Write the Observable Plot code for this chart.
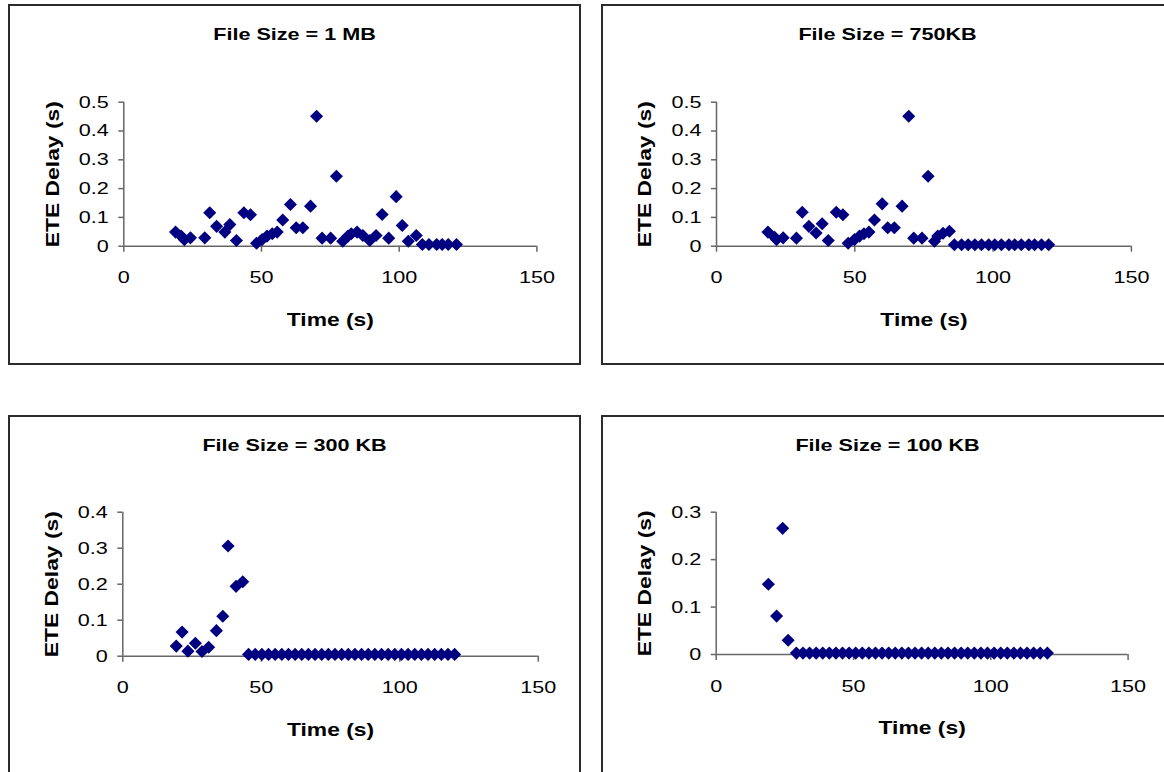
<!DOCTYPE html>
<html>
<head>
<meta charset="utf-8">
<script src="https://cdn.jsdelivr.net/npm/d3@7"></script>
<script src="https://cdn.jsdelivr.net/npm/@observablehq/plot@0.6"></script>
<style>
  html, body { margin: 0; padding: 0; background: #fff; }
  body { width: 1164px; height: 772px; overflow: hidden; position: relative;
         font-family: "Liberation Sans", Arial, sans-serif; }
  .frame { position: absolute; box-sizing: border-box; border: 2px solid #2b2b2b; }
  .title { position: absolute; width: 571px; text-align: center; font-weight: bold;
           font-size: 17px; line-height: 17px; color: #000;
           transform: scaleX(1.27); transform-origin: 50% 50%; }
  .chart { position: absolute; }
</style>
</head>
<body>
<script>
// ---- Data ----
const titles = ["File Size = 1 MB", "File Size = 750KB", "File Size = 300 KB", "File Size = 100 KB"];
const xTicks = [0, 50, 100, 150];
const yTicks1MB = [0, 0.1, 0.2, 0.3, 0.4, 0.5];
const yTicks750KB = [0, 0.1, 0.2, 0.3, 0.4, 0.5];
const yTicks300KB = [0, 0.1, 0.2, 0.3, 0.4];
const yTicks100KB = [0, 0.1, 0.2, 0.3];

const time1MB = [18.8, 20.8, 22, 24.2, 29.4, 31.2, 33.7, 36.7, 38.5, 40.9, 43.6, 46, 48.2, 50.2, 52, 53.9, 55.7, 57.7, 60.5, 62.6, 65, 67.8, 70, 72, 75.1, 77.2, 79.5, 81.4, 82.6, 84.7, 86.8, 89.3, 91.6, 93.8, 96.2, 98.9, 101.1, 103.3, 106.2, 108.4, 110.8, 113.6, 115.6, 117.8, 120.8];
const delay1MB = [0.049, 0.035, 0.023, 0.029, 0.029, 0.116, 0.069, 0.049, 0.075, 0.02, 0.116, 0.109, 0.01, 0.023, 0.035, 0.043, 0.049, 0.091, 0.145, 0.064, 0.064, 0.139, 0.451, 0.028, 0.028, 0.243, 0.017, 0.035, 0.043, 0.049, 0.037, 0.02, 0.037, 0.11, 0.028, 0.172, 0.072, 0.017, 0.037, 0.006, 0.006, 0.006, 0.006, 0.006, 0.006];

const time750KB = [18.6, 21, 21.7, 24.1, 28.9, 31, 33.4, 36, 38.2, 40.4, 43.3, 45.7, 47.6, 49.9, 51.7, 53.3, 55.1, 57.1, 59.9, 61.9, 64.3, 67.1, 69.5, 71.3, 74.3, 76.5, 78.8, 80, 81.9, 84.2, 86, 88.6, 91, 93.4, 95.8, 98.4, 100.6, 103, 105.7, 107.8, 110.2, 112.9, 115, 117.5, 120.1];
const delay750KB = [0.049, 0.031, 0.023, 0.029, 0.028, 0.118, 0.069, 0.046, 0.078, 0.02, 0.118, 0.109, 0.01, 0.023, 0.035, 0.043, 0.049, 0.091, 0.147, 0.064, 0.064, 0.139, 0.451, 0.028, 0.028, 0.243, 0.017, 0.035, 0.045, 0.052, 0.005, 0.005, 0.005, 0.005, 0.005, 0.005, 0.005, 0.005, 0.005, 0.005, 0.005, 0.005, 0.005, 0.005, 0.005];

const time300KB = [19.3, 21.4, 23.5, 26.2, 28.6, 31, 33.8, 36.1, 38, 40.9, 43.3, 45.4, 47.8, 50.2, 52.6, 55, 57.4, 59.8, 62.2, 64.6, 67, 69.4, 71.8, 74.2, 76.6, 79, 81.4, 83.8, 86.2, 88.6, 91, 93.4, 95.8, 98.2, 100.6, 103, 105.4, 107.8, 110.2, 112.6, 115, 117.4, 119.8];
const delay300KB = [0.028, 0.067, 0.014, 0.036, 0.013, 0.025, 0.071, 0.111, 0.306, 0.194, 0.207, 0.005, 0.005, 0.005, 0.005, 0.005, 0.005, 0.005, 0.005, 0.005, 0.005, 0.005, 0.005, 0.005, 0.005, 0.005, 0.005, 0.005, 0.005, 0.005, 0.005, 0.005, 0.005, 0.005, 0.005, 0.005, 0.005, 0.005, 0.005, 0.005, 0.005, 0.005, 0.005];

const time100KB = [19, 22, 24.2, 26.2, 29.2, 31.6, 34, 36.4, 38.8, 41.2, 43.6, 46, 48.4, 50.8, 53.2, 55.6, 58, 60.4, 62.8, 65.2, 67.6, 70, 72.4, 74.8, 77.2, 79.6, 82, 84.4, 86.8, 89.2, 91.6, 94, 96.4, 98.8, 101.2, 103.6, 106, 108.4, 110.8, 113.2, 115.6, 118, 120.6];
const delay100KB = [0.148, 0.081, 0.266, 0.03, 0.003, 0.003, 0.003, 0.003, 0.003, 0.003, 0.003, 0.003, 0.003, 0.003, 0.003, 0.003, 0.003, 0.003, 0.003, 0.003, 0.003, 0.003, 0.003, 0.003, 0.003, 0.003, 0.003, 0.003, 0.003, 0.003, 0.003, 0.003, 0.003, 0.003, 0.003, 0.003, 0.003, 0.003, 0.003, 0.003, 0.003, 0.003, 0.003];

const xLabel = "Time (s)";
const yLabel = "ETE Delay (s)";

// ---- Layout (page positions of each panel) ----
const panels = [
  {title: titles[0], t: time1MB, d: delay1MB, yTicks: yTicks1MB, left: 9, top: 5, ml: 114.3, mr: 43.6, mt: 96.7, mb: 119.3},
  {title: titles[1], t: time750KB, d: delay750KB, yTicks: yTicks750KB, left: 602, top: 5, ml: 114, mr: 42.1, mt: 96.7, mb: 119.3},
  {title: titles[2], t: time300KB, d: delay300KB, yTicks: yTicks300KB, left: 9, top: 416, ml: 113.3, mr: 42.2, mt: 95.7, mb: 120.3},
  {title: titles[3], t: time100KB, d: delay100KB, yTicks: yTicks100KB, left: 602, top: 416, ml: 113.7, mr: 45.4, mt: 95.7, mb: 122}
];

const W = 571, H = 360;
const axisColor = "#666";
const markColor = "#000080";
const textStretch = 1.27;

for (const p of panels) {
  const frame = document.createElement("div");
  frame.className = "frame";
  Object.assign(frame.style, {left: (p.left - 1) + "px", top: (p.top - 1) + "px", width: (W + 2) + "px", height: (H + 1) + "px"});
  document.body.appendChild(frame);

  const title = document.createElement("div");
  title.className = "title";
  title.textContent = p.title;
  Object.assign(title.style, {left: p.left + "px", top: (p.top + 21) + "px"});
  document.body.appendChild(title);

  const data = p.t.map((t, i) => ({t, d: p.d[i]}));
  const yMax = p.yTicks[p.yTicks.length - 1];

  const svg = Plot.plot({
    width: W, height: H,
    marginLeft: p.ml, marginRight: p.mr, marginTop: p.mt, marginBottom: p.mb,
    x: {domain: [0, 150]},
    y: {domain: [0, yMax]},
    style: {background: "transparent", fontFamily: "'Liberation Sans', Arial, sans-serif", color: "#000", overflow: "visible"},
    marks: [
      Plot.ruleY([0], {stroke: axisColor, strokeWidth: 1.5}),
      Plot.ruleX([0], {stroke: axisColor, strokeWidth: 1.5}),
      Plot.axisX({ticks: xTicks, tickSize: 6, tickPadding: 19, fontSize: 17, stroke: axisColor, strokeWidth: 1.5, fill: "#000", label: null, tickFormat: d => String(d)}),
      Plot.axisY({ticks: p.yTicks, tickSize: 5, tickPadding: 10, fontSize: 17, stroke: axisColor, strokeWidth: 1.5, fill: "#000", label: null, tickFormat: d => String(d)}),
      Plot.dot(data, {x: "t", y: "d", symbol: "diamond2", r: 5.9, fill: markColor, stroke: "none"}),
      Plot.text([yLabel], {text: d => d, frameAnchor: "left", dx: -71, rotate: -90, textAnchor: "middle", lineAnchor: "middle", fontSize: 18, fontWeight: "bold", fill: "#000"}),
      Plot.text([xLabel], {text: d => d, frameAnchor: "bottom", dy: 74, textAnchor: "middle", lineAnchor: "middle", fontSize: 18, fontWeight: "bold", fill: "#000"})
    ]
  });
  // widen glyphs along the text direction, as in the reference rendering
  svg.querySelectorAll("text").forEach(t => {
    const tr = t.getAttribute("transform");
    if (tr) {
      t.setAttribute("transform", tr + ` scale(${textStretch},1)`);
    } else {
      const x = t.getAttribute("x") || 0, y = t.getAttribute("y") || 0;
      t.setAttribute("transform", `translate(${x},${y}) scale(${textStretch},1)`);
      t.removeAttribute("x");
      t.removeAttribute("y");
    }
  });
  svg.classList.add("chart");
  svg.style.position = "absolute";
  svg.style.left = p.left + "px";
  svg.style.top = p.top + "px";
  document.body.appendChild(svg);
}
</script>
</body>
</html>
